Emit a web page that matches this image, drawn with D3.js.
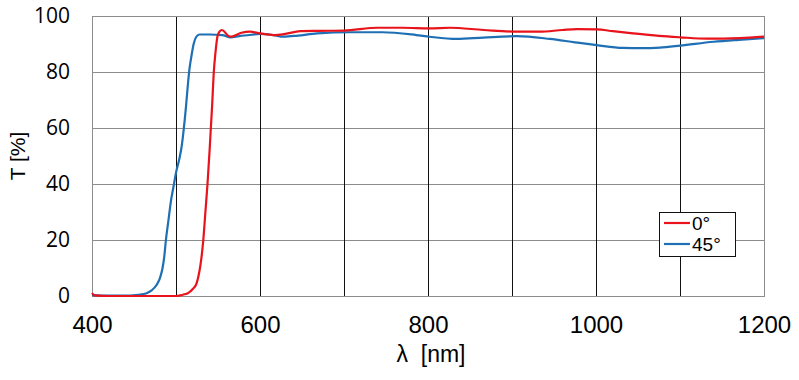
<!DOCTYPE html>
<html><head><meta charset="utf-8">
<script src="https://cdn.jsdelivr.net/npm/d3@7"></script>
<style>body{margin:0;background:#fff}svg{display:block}</style>
</head><body>
<script>
const xTicks = [400, 600, 800, 1000, 1200];
const xGrid = [500, 600, 700, 800, 900, 1000, 1100];
const yTicks = [0, 20, 40, 60, 80, 100];
const seriesNames = ["0°", "45°"];
const lambda0 = [400,403,420,460,500,505,510,514,520,524.5,528,530,532.5,535,537.5,540,541.3,543,545,547,549.6,552,554.5,558,561,565,570,578,588,600,616,630,648,670,700,740,770,802,826,866,906,933,960,977,1001,1020,1044,1075,1100,1132,1171,1200];
const t0 = [1.0,0.2,0,0,0,0.2,0.6,1,2.5,4.5,9,13,20,30,40,52,59,68,80,87,93,94.5,95,94.3,93.2,92.6,93.0,94.0,94.4,93.8,93.2,93.6,94.6,94.7,94.8,95.8,95.8,95.6,95.8,95.0,94.4,94.4,95.0,95.3,95.2,94.6,93.8,92.9,92.4,91.9,92.1,92.6];
const lambda45 = [400,420,445,455,465,471,477,481,484,486,488,491,494,497,500,504,507,509,512,514,516,518,521,524,528,540,555,565,575,590,600,616,628,645,668,707,746,786,802,834,866,906,945,975,1001,1032,1055,1076,1100,1140,1170,1200];
const t45 = [0.3,0.1,0.1,0.4,1,2,4,6.5,10,14,20,27,34,39,44,49,54,59,68,75,81,85,90,92.5,93.4,93.4,93.2,92.4,92.8,93.3,93.6,93.2,92.6,93.0,93.8,94.2,94.2,93.2,92.6,91.8,92.3,92.8,91.8,90.6,89.6,88.6,88.5,88.7,89.4,90.8,91.5,92.1];
const colors = ["#e8131b", "#1f6fb4"];

const W = 799, H = 380;
const m = {left: 92, right: 35, top: 16, bottom: 84};
const svg = d3.select("body").append("svg").attr("width", W).attr("height", H);
const x = d3.scaleLinear().domain([400, 1200]).range([m.left, W - m.right]);
const y = d3.scaleLinear().domain([0, 100]).range([H - m.bottom, m.top]);

// horizontal grid
svg.append("g").selectAll("line").data(yTicks.filter(d => d > 0 && d < 100)).join("line")
  .attr("x1", x(400)).attr("x2", x(1200)).attr("y1", d => y(d)).attr("y2", d => y(d))
  .attr("stroke", "#8c8c8c").attr("stroke-width", 1).attr("shape-rendering", "crispEdges");
// vertical grid
svg.append("g").selectAll("line").data(xGrid).join("line")
  .attr("x1", d => x(d)).attr("x2", d => x(d)).attr("y1", y(0)).attr("y2", y(100))
  .attr("stroke", "#111").attr("stroke-width", 1).attr("shape-rendering", "crispEdges");
// border
svg.append("rect").attr("x", x(400)).attr("y", y(100)).attr("width", x(1200) - x(400)).attr("height", y(0) - y(100))
  .attr("fill", "none").attr("stroke", "#8c8c8c").attr("shape-rendering", "crispEdges");

// axes
const xAxis = svg.append("g").attr("transform", `translate(0,${y(0)})`)
  .call(d3.axisBottom(x).tickValues(xTicks).tickSize(0).tickPadding(20).tickFormat(d3.format("d")));
xAxis.select(".domain").remove();
xAxis.selectAll("text").attr("font-family", "Liberation Sans, Arial, sans-serif").attr("font-size", 24).attr("fill", "#000");

const yAxis = svg.append("g").attr("transform", `translate(${x(400)},0)`)
  .call(d3.axisLeft(y).tickValues(yTicks).tickSize(0).tickPadding(22).tickFormat(d3.format("d")));
yAxis.select(".domain").remove();
yAxis.selectAll("text").attr("font-family", "Open Sans, Liberation Sans, sans-serif").attr("font-size", 21).attr("fill", "#000");

// axis titles
svg.append("text").attr("x", 431).attr("y", 362).attr("text-anchor", "middle")
  .attr("font-family", "Liberation Sans, Arial, sans-serif").attr("font-size", 23).attr("fill", "#000")
  .attr("xml:space", "preserve").text("λ  [nm]");
svg.append("text").attr("transform", "translate(25,156) rotate(-90)").attr("text-anchor", "middle")
  .attr("font-family", "Liberation Sans, Arial, sans-serif").attr("font-size", 21).attr("fill", "#000")
  .text("T [%]");

// lines
const line = d3.line().x(d => x(d[0])).y(d => y(d[1])).curve(d3.curveMonotoneX);
const data = [d3.zip(lambda0, t0), d3.zip(lambda45, t45)];
const order = [1, 0];
order.forEach(i => {
  svg.append("path").datum(data[i]).attr("d", line).attr("fill", "none")
    .attr("stroke", colors[i]).attr("stroke-width", 2.2).attr("stroke-linejoin", "round");
});

// legend
const lg = svg.append("g");
lg.append("rect").attr("x", 659.5).attr("y", 212.5).attr("width", 76).attr("height", 44)
  .attr("fill", "#fff").attr("stroke", "#111").attr("stroke-width", 1);
seriesNames.forEach((n, i) => {
  const yy = 223 + i * 21;
  lg.append("line").attr("x1", 664).attr("x2", 690).attr("y1", yy).attr("y2", yy)
    .attr("stroke", colors[i]).attr("stroke-width", 2.2);
  lg.append("text").attr("x", 692).attr("y", yy + 7).attr("font-family", "Liberation Sans, Arial, sans-serif")
    .attr("font-size", 19).attr("fill", "#000").text(n);
});
</script>
</body></html>
